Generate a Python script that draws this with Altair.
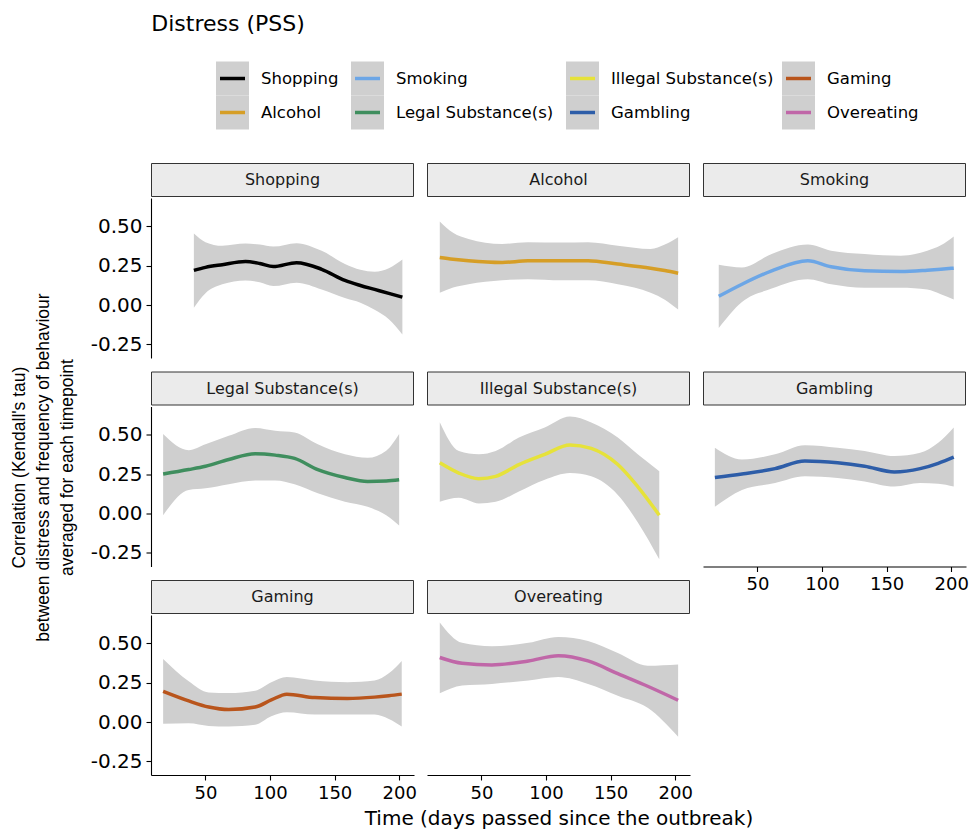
import altair as alt
import pandas as pd

# ---------------- data ----------------
behaviours = ["Shopping", "Alcohol", "Smoking", "Legal Substance(s)",
              "Illegal Substance(s)", "Gambling", "Gaming", "Overeating"]
line_colors = ["#000000", "#D69E26", "#6CA6E6", "#3F8E5E",
               "#E6E23A", "#2D5DA8", "#B9551C", "#C067A8"]

shopping_day = [41, 50, 63, 81, 92, 102.5, 120.5, 140, 158, 170, 181, 192, 202.5]
shopping_fit = [0.221, 0.240, 0.257, 0.277, 0.265, 0.245, 0.270, 0.228, 0.157, 0.125, 0.100, 0.075, 0.051]
shopping_lo = [-0.017, 0.075, 0.132, 0.157, 0.145, 0.121, 0.143, 0.100, 0.045, 0.015, -0.030, -0.090, -0.187]
shopping_hi = [0.455, 0.400, 0.377, 0.391, 0.385, 0.372, 0.394, 0.345, 0.262, 0.225, 0.213, 0.235, 0.290]

alcohol_day = [17.7, 28, 40, 66, 86, 112, 132.5, 155.6, 181, 192, 202.3]
alcohol_fit = [0.303, 0.292, 0.282, 0.271, 0.282, 0.282, 0.282, 0.261, 0.235, 0.220, 0.203]
alcohol_lo = [0.079, 0.112, 0.133, 0.158, 0.165, 0.158, 0.158, 0.133, 0.079, 0.035, -0.028]
alcohol_hi = [0.532, 0.460, 0.421, 0.389, 0.400, 0.398, 0.400, 0.378, 0.357, 0.385, 0.431]

smoking_day = [20, 38, 61, 89, 107, 133, 161, 181.5, 192, 202]
smoking_fit = [0.056, 0.133, 0.218, 0.282, 0.244, 0.218, 0.214, 0.222, 0.228, 0.235]
smoking_lo = [-0.145, 0.020, 0.105, 0.165, 0.133, 0.111, 0.111, 0.100, 0.070, 0.036]
smoking_hi = [0.256, 0.239, 0.325, 0.385, 0.346, 0.325, 0.314, 0.346, 0.380, 0.436]

legal_day = [17.2, 37, 50, 68, 88.5, 104, 119, 137, 158, 175.6, 190, 200]
legal_fit = [0.252, 0.280, 0.301, 0.344, 0.381, 0.372, 0.351, 0.280, 0.230, 0.205, 0.208, 0.215]
legal_lo = [-0.010, 0.151, 0.161, 0.187, 0.211, 0.211, 0.187, 0.129, 0.075, 0.043, -0.010, -0.075]
legal_hi = [0.506, 0.403, 0.441, 0.495, 0.545, 0.527, 0.516, 0.441, 0.377, 0.355, 0.400, 0.506]

illegal_day = [17.7, 32.5, 48, 61, 79, 99, 118.5, 135, 155.6, 171, 187.7]
illegal_fit = [0.323, 0.258, 0.222, 0.237, 0.312, 0.377, 0.437, 0.415, 0.312, 0.172, -0.010]
illegal_lo = [0.075, 0.101, 0.065, 0.075, 0.140, 0.215, 0.258, 0.237, 0.119, -0.054, -0.290]
illegal_hi = [0.581, 0.398, 0.377, 0.398, 0.484, 0.548, 0.617, 0.580, 0.484, 0.377, 0.269]

gambling_day = [17, 38, 63.6, 86.7, 112, 133, 156, 176, 190, 202]
gambling_fit = [0.230, 0.252, 0.286, 0.334, 0.323, 0.301, 0.265, 0.286, 0.320, 0.359]
gambling_lo = [0.043, 0.151, 0.194, 0.237, 0.226, 0.205, 0.172, 0.194, 0.190, 0.172]
gambling_hi = [0.419, 0.344, 0.377, 0.435, 0.419, 0.398, 0.366, 0.387, 0.450, 0.548]

gaming_day = [17.2, 37, 52.5, 68, 88.5, 101, 113, 134.6, 160, 181, 192, 202]
gaming_fit = [0.196, 0.135, 0.096, 0.080, 0.096, 0.141, 0.178, 0.156, 0.150, 0.159, 0.168, 0.178]
gaming_lo = [-0.011, -0.007, -0.024, -0.028, -0.017, 0.037, 0.063, 0.048, 0.048, 0.048, 0.020, -0.028]
gaming_hi = [0.402, 0.260, 0.189, 0.185, 0.200, 0.254, 0.287, 0.265, 0.254, 0.265, 0.310, 0.389]

overeating_day = [17.7, 35, 58, 86.4, 109.5, 132.5, 155.6, 178.7, 202.3]
overeating_fit = [0.411, 0.374, 0.363, 0.389, 0.422, 0.389, 0.308, 0.228, 0.139]
overeating_lo = [0.183, 0.233, 0.243, 0.265, 0.287, 0.243, 0.168, 0.091, -0.093]
overeating_hi = [0.634, 0.504, 0.482, 0.504, 0.541, 0.515, 0.439, 0.359, 0.367]

x_ticks = [50, 100, 150, 200]
y_ticks = [-0.25, 0.0, 0.25, 0.50]

series = {
    "Shopping": (shopping_day, shopping_fit, shopping_lo, shopping_hi),
    "Alcohol": (alcohol_day, alcohol_fit, alcohol_lo, alcohol_hi),
    "Smoking": (smoking_day, smoking_fit, smoking_lo, smoking_hi),
    "Legal Substance(s)": (legal_day, legal_fit, legal_lo, legal_hi),
    "Illegal Substance(s)": (illegal_day, illegal_fit, illegal_lo, illegal_hi),
    "Gambling": (gambling_day, gambling_fit, gambling_lo, gambling_hi),
    "Gaming": (gaming_day, gaming_fit, gaming_lo, gaming_hi),
    "Overeating": (overeating_day, overeating_fit, overeating_lo, overeating_hi),
}

records = []
for nm, (d, f, lo, hi) in series.items():
    for a, b, c, e in zip(d, f, lo, hi):
        records.append({"name": nm, "day": a, "fit": b, "lo": c, "hi": e})
df = pd.DataFrame(records)

# ---------------- styling / layout ----------------
FONT = "DejaVu Sans"
BAND = "#CFCFCF"
W, H = 263, 160

color_scale = alt.Scale(domain=behaviours, range=line_colors)
x_scale = alt.Scale(domain=[7.8, 211.5], nice=False, zero=False)
y_scale = alt.Scale(domain=[-0.336, 0.681], nice=False, zero=False)

y_title_lines = ["Correlation (Kendall's tau)",
                 "between distress and frequency of behaviour",
                 "averaged for each timepoint"]
x_title = "Time (days passed since the outbreak)"

axis_common = dict(grid=False, domainColor="black", domainWidth=1.1,
                   tickColor="black", tickWidth=1.1, tickSize=5,
                   labelColor="black", labelFont=FONT)

leg_key_x = [65, 200, 415, 631]
leg_row_y = [-136.5, -102.5]


def make_panel(i, name):
    col = i % 3
    has_y = col == 0
    has_x = name in ("Gambling", "Gaming", "Overeating")

    if has_x:
        if name == "Overeating":
            xa = alt.Axis(values=x_ticks, labelFontSize=18, labelPadding=4,
                          titleFont=FONT, titleFontSize=20, titleFontWeight="normal",
                          titleColor="black", titlePadding=6, **axis_common)
            xt = x_title
        else:
            xa = alt.Axis(values=x_ticks, labelFontSize=18, labelPadding=4, **axis_common)
            xt = None
    else:
        xa = None
        xt = None

    label_expr = ("datum.value < 0 ? '-' + format(-datum.value, '.2f') : "
                  "format(datum.value, '.2f')")
    if has_y:
        if name == "Legal Substance(s)":
            ya = alt.Axis(values=y_ticks, labelExpr=label_expr, labelFontSize=20,
                          labelPadding=4, titleFont="Liberation Sans", titleFontSize=17.5,
                          titleFontWeight="normal", titleColor="black",
                          titleLineHeight=24, titlePadding=14, titleY=60.5,
                          **axis_common)
            yt = y_title_lines
        else:
            ya = alt.Axis(values=y_ticks, labelExpr=label_expr, labelFontSize=20,
                          labelPadding=4, **axis_common)
            yt = None
    else:
        ya = None
        yt = None

    base = alt.Chart(df).transform_filter(alt.datum.name == name)
    band = base.mark_area(color=BAND, interpolate="monotone").encode(
        x=alt.X("day:Q", scale=x_scale, axis=xa, title=xt),
        y=alt.Y("lo:Q", scale=y_scale, axis=ya, title=yt),
        y2="hi:Q",
    )
    line = base.mark_line(strokeWidth=3.5, interpolate="monotone").encode(
        x=alt.X("day:Q", scale=x_scale, axis=xa, title=xt),
        y=alt.Y("fit:Q", scale=y_scale, axis=ya, title=yt),
        color=alt.Color("name:N", scale=color_scale, legend=None),
    )

    strip_df = pd.DataFrame({"name": [name]})
    strip_box = alt.Chart(strip_df).mark_rect(
        fill="#EBEBEB", stroke="#333333", strokeWidth=1).encode(
        x=alt.value(0.5), x2=alt.value(W - 0.5),
        y=alt.value(-34.5), y2=alt.value(-1.5))
    strip_txt = alt.Chart(strip_df).mark_text(
        font=FONT, fontSize=16, color="#1A1A1A", baseline="middle").encode(
        x=alt.value(W / 2), y=alt.value(-18), text="name:N")

    layers = [band, line, strip_box, strip_txt]

    if i == 0:
        # legend (ggplot style: grey keys with coloured line), column-major order
        for j, b in enumerate(behaviours):
            c, r = divmod(j, 2)
            kx = leg_key_x[c]
            ky = leg_row_y[r]
            d = pd.DataFrame({"name": [b]})
            key = alt.Chart(d).mark_rect(fill=BAND).encode(
                x=alt.value(kx), x2=alt.value(kx + 33),
                y=alt.value(ky), y2=alt.value(ky + 34))
            seg = alt.Chart(d).mark_rule(strokeWidth=3.5).encode(
                x=alt.value(kx + 4), x2=alt.value(kx + 29), y=alt.value(ky + 17),
                color=alt.Color("name:N", scale=color_scale, legend=None))
            lab = alt.Chart(d).mark_text(
                align="left", baseline="middle", font=FONT, fontSize=16.5,
                color="black").encode(
                x=alt.value(kx + 45), y=alt.value(ky + 17), text="name:N")
            layers += [key, seg, lab]

    return alt.layer(*layers).properties(width=W, height=H)


panels = [make_panel(i, nm) for i, nm in enumerate(behaviours)]

chart = alt.concat(
    *panels, columns=3, spacing={"row": 48.5, "column": 13}, bounds="flush"
).properties(
    title=alt.TitleParams("Distress (PSS)", anchor="start", font=FONT, fontSize=22,
                          fontWeight="normal", color="black", offset=26, dx=141),
    padding={"left": 10, "top": 12, "right": 2, "bottom": 2},
    background="white",
).configure(font=FONT).configure_view(stroke=None)

chart.save("out.html", embed_options={"renderer": "svg", "actions": False})
